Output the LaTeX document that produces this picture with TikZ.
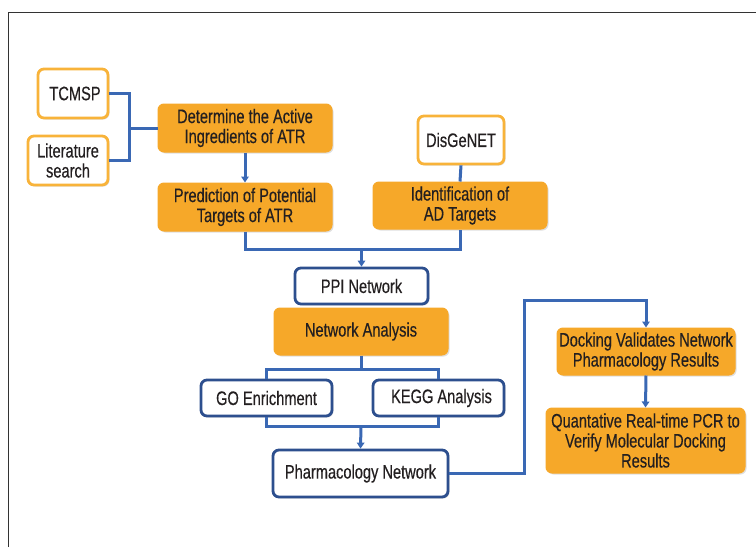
\documentclass[tikz,border=0pt]{standalone}
\usepackage{fontspec}
\setmainfont{Liberation Sans}[FakeStretch=0.75,FakeBold=0.4]
\usetikzlibrary{arrows.meta,shadows}
\definecolor{orfill}{HTML}{F6A829}
\definecolor{orline}{HTML}{F8B33A}
\definecolor{bxblue}{HTML}{2D4F8E}
\definecolor{lnblue}{HTML}{3A68B4}
\definecolor{txt}{HTML}{231F20}
\tikzset{
  base/.style={rounded corners=6pt, align=center, text=txt, font=\fontsize{19.5}{20}\selectfont, inner sep=0pt,
    drop shadow={opacity=0.25, shadow xshift=1.5pt, shadow yshift=-1.5pt}},
  obox/.style={base, fill=orfill, draw=orfill, line width=1pt},
  wobox/.style={base, fill=white, draw=orline, line width=2.8pt},
  bbox/.style={base, fill=white, draw=bxblue, line width=2.8pt},
  conn/.style={draw=lnblue, line width=3pt},
  arr/.style={conn, -{Triangle[length=6pt,width=7.5pt]}},
}
\begin{document}
\begin{tikzpicture}[x=1pt,y=-1pt]
\useasboundingbox (0,0) rectangle (756,547);
\draw[line width=1pt, color=black!80] (8,547) -- (8,12) -- (756,12);
% nodes
\node[wobox, minimum width=70pt, minimum height=49pt] (tcmsp) at (73,93.5) {\hspace*{4pt}TCMSP};
\node[wobox, minimum width=80pt, minimum height=49pt] (lit) at (68,160.5) {Literature\\search};
\node[obox, minimum width=174pt, minimum height=48pt] (det) at (245,128) {Determine the Active\\Ingredients of ATR};
\node[obox, minimum width=174pt, minimum height=48pt] (pred) at (245,207) {Prediction of Potential\\Targets of ATR};
\node[wobox, minimum width=86pt, minimum height=48pt] (dis) at (461,140) {DisGeNET};
\node[obox, minimum width=174pt, minimum height=47pt] (ident) at (460,205.5) {Identification of\\AD Targets};
\node[bbox, minimum width=133pt, minimum height=36pt] (ppi) at (361.5,286) {PPI Network};
\node[obox, minimum width=174pt, minimum height=47pt] (na) at (361,331.5) {Network Analysis};
\node[bbox, minimum width=131pt, minimum height=36pt] (go) at (266.5,398) {GO Enrichment};
\node[bbox, minimum width=131pt, minimum height=36pt] (kegg) at (438.5,398) {\hspace*{6pt}KEGG Analysis};
\node[bbox, minimum width=175pt, minimum height=47pt] (ph) at (360.5,473.5) {Pharmacology Network};
\node[obox, minimum width=178pt, minimum height=47pt] (dock) at (646,351.5) {Docking Validates Network\\Pharmacology Results};
\node[obox, minimum width=199pt, minimum height=65pt] (qpcr) at (645.5,440.5) {Quantative Real-time PCR to\\Verify Molecular Docking\\Results};
% junction coordinates
\coordinate (j1) at (129,128);
\coordinate (j2) at (361.5,249);
\coordinate (j3) at (361,369);
\coordinate (j4) at (361,426);
\coordinate (j5) at (524,300);
% connectors
\draw[conn] (tcmsp.east) -- (tcmsp.east -| j1) -- (lit.east -| j1) -- (lit.east);
\draw[conn] (j1) -- (det.west);
\draw[arr] (det.south) -- (pred.north);
\draw[conn] (pred.south) -- (pred.south |- j2) -- (ident.south |- j2) -- (ident.south);
\draw[conn] (dis.south) -- (ident.north);
\draw[arr] (j2) -- (ppi.north);
\draw[conn] (na.south) -- (j3);
\draw[conn] (go.north) -- (go.north |- j3) -- (kegg.north |- j3) -- (kegg.north);
\draw[conn] (go.south) -- (go.south |- j4) -- (kegg.south |- j4) -- (kegg.south);
\draw[arr] (j4) -- (ph.north);
\draw[arr] (ph.east) -- (ph.east -| j5) -- (j5) -- (j5 -| dock.north) -- (dock.north);
\draw[arr] (dock.south) -- (qpcr.north);
\end{tikzpicture}
\end{document}
